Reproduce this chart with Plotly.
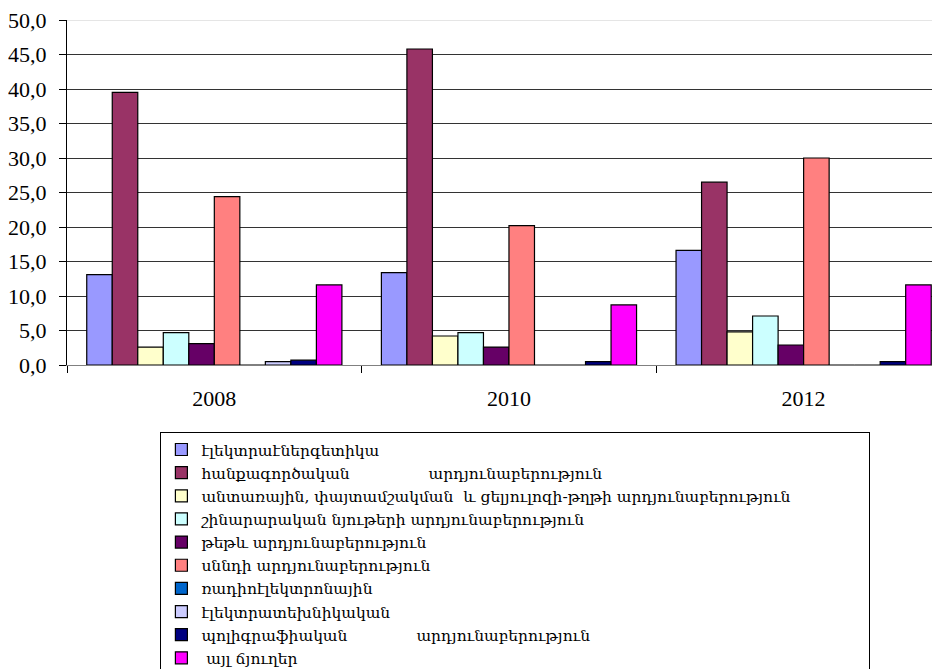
import plotly.graph_objects as go

years = ["2008", "2010", "2012"]

series_names = [
    "էլեկտրաէներգետիկա",
    "հանքագործական" + "\u00a0" * 16 + "արդյունաբերություն",
    "անտառային, փայտամշակման\u00a0\u00a0և ցելյուլոզի-թղթի արդյունաբերություն" + "\u00a0" * 15,
    "շինարարական նյութերի արդյունաբերություն",
    "թեթև արդյունաբերություն",
    "սննդի արդյունաբերություն",
    "ռադիոէլեկտրոնային",
    "էլեկտրատեխնիկական",
    "պոլիգրաֆիական" + "\u00a0" * 14 + "արդյունաբերություն",
    "\u00a0այլ ճյուղեր",
]

energy = [13.1, 13.4, 16.6]
mining = [39.5, 45.8, 26.5]
wood = [2.6, 4.2, 4.8]
building = [4.7, 4.7, 7.1]
light = [3.1, 2.6, 2.9]
food = [24.4, 20.2, 30.0]
radio = [0.0, 0.0, 0.0]
electrotech = [0.5, 0.0, 0.0]
printing = [0.7, 0.5, 0.5]
other = [11.6, 8.7, 11.6]

series_values = [energy, mining, wood, building, light, food, radio, electrotech, printing, other]

colors = ["#9999FF", "#993366", "#FFFFCC", "#CCFFFF", "#660066",
          "#FF8080", "#0066CC", "#CCCCFF", "#000080", "#FF00FF"]

fig = go.Figure()
for name, vals, col in zip(series_names, series_values, colors):
    fig.add_trace(go.Bar(
        x=years, y=vals, name=name,
        marker=dict(color=col, line=dict(color="#000000", width=1.2)),
    ))

serif = "Times New Roman, Liberation Serif, DejaVu Serif, serif"

fig.update_layout(
    width=940, height=669,
    margin=dict(l=59, r=0, t=12, b=312, autoexpand=False),
    paper_bgcolor="white", plot_bgcolor="white",
    barmode="group", bargap=0.134, bargroupgap=0,
    separators=", ",
    showlegend=True,
    legend=dict(
        x=0.106, y=-0.194, xanchor="left", yanchor="top",
        orientation="v",
        bordercolor="#000000", borderwidth=1,
        font=dict(family="DejaVu Serif, serif", size=15.5, color="#000000"),
        traceorder="normal",
        itemclick=False,
    ),
    xaxis=dict(
        type="category",
        range=[-0.5, 2.49],
        automargin=False,
        showline=True, linecolor="#808080", linewidth=1,
        ticks="outside", tickson="boundaries", ticklen=7, tickcolor="#000000",
        tickfont=dict(family=serif, size=22, color="#000000"),
        ticklabelstandoff=14,
        ticklabeloverflow="allow",
        showgrid=False,
    ),
    yaxis=dict(
        range=[0, 50],
        automargin=False,
        tickvals=[0, 5, 10, 15, 20, 25, 30, 35, 40, 45, 50],
        tickformat=".1f",
        showline=True, linecolor="#000000", linewidth=1,
        ticks="outside", ticklen=7, tickcolor="#000000",
        tickfont=dict(family=serif, size=22, color="#000000"),
        ticklabelstandoff=8,
        ticklabeloverflow="allow",
        showgrid=True, gridcolor="#333333", gridwidth=1,
        zeroline=False,
    ),
    shapes=[dict(type="line", xref="paper", yref="y", x0=0, x1=1, y0=50, y1=50,
                 line=dict(color="#DDDDDD", width=1.5), layer="above")],
)

fig.write_html("out.html")
